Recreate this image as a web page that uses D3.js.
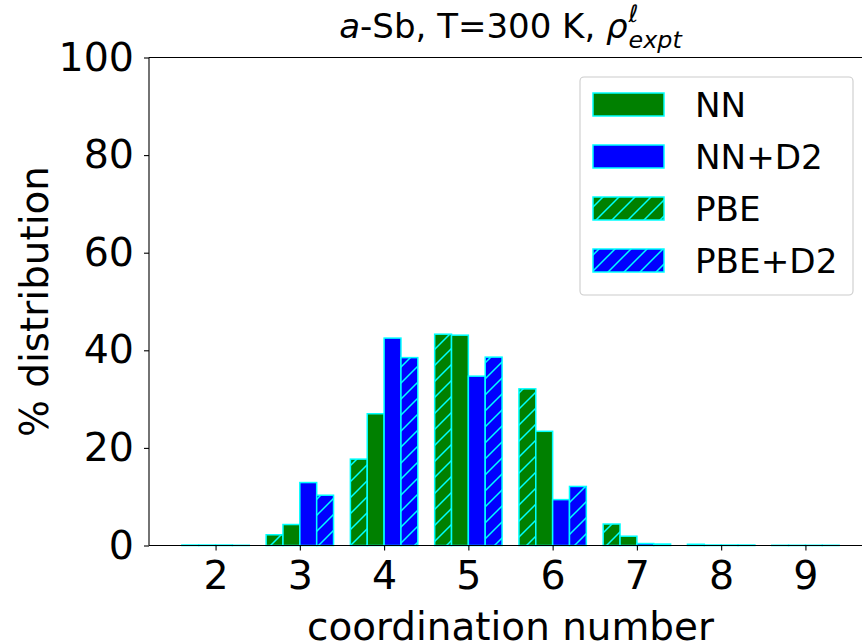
<!DOCTYPE html>
<html lang="en">
<head>
    <meta charset="UTF-8">
    <title>a-Sb coordination number distribution</title>
    <script src="https://d3js.org/d3.v7.min.js"></script>
    <style>
        body { margin: 0; background: #fff; }
        text { font-family: "DejaVu Sans", sans-serif; fill: #000; }
        .spine { stroke: #000; stroke-width: 1.1; }
    </style>
</head>
<body>
    <svg id="chart"></svg>
    <script>
        // data (% of atoms with each coordination number)
        const coordination = [2, 3, 4, 5, 6, 7, 8, 9];
        const nn     = [0.1, 4.3, 27.0, 43.1, 23.4, 1.9, 0.1, 0.05];
        const nnD2   = [0.1, 12.9, 42.5, 34.7, 9.4, 0.4, 0.1, 0.05];
        const pbe    = [0.1, 2.2, 17.7, 43.3, 32.1, 4.4, 0.25, 0.05];
        const pbeD2  = [0.05, 10.3, 38.5, 38.6, 12.1, 0.3, 0.1, 0.05];
        const yTicks = [0, 20, 40, 60, 80, 100];

        // series in drawing order, offset is bar left edge relative to the integer
        const series = [
            { name: "PBE",    values: pbe,   color: "green", hatch: true,  offset: -0.4 },
            { name: "NN",     values: nn,    color: "green", hatch: false, offset: -0.2 },
            { name: "NN+D2",  values: nnD2,  color: "blue",  hatch: false, offset: 0.0 },
            { name: "PBE+D2", values: pbeD2, color: "blue",  hatch: true,  offset: 0.2 }
        ];
        const legendOrder = ["NN", "NN+D2", "PBE", "PBE+D2"];
        const barWidth = 0.2;

        const W = 862, H = 642;
        const svg = d3.select("#chart").attr("width", W).attr("height", H);

        // plot box (right side runs off the canvas like the original)
        const pLeft = 149, pRight = 872, pTop = 57.5, pBottom = 545.5;

        const x = d3.scaleLinear().domain([1.21, 9.79]).range([pLeft, pRight]);
        const y = d3.scaleLinear().domain([0, 100]).range([pBottom, pTop]);

        // hatch patterns
        const defs = svg.append("defs");
        const step = 16;
        ["green", "blue"].forEach(c => {
            const p = defs.append("pattern")
                .attr("id", "hatch-" + c)
                .attr("patternUnits", "userSpaceOnUse")
                .attr("width", step).attr("height", step);
            p.append("rect").attr("width", step).attr("height", step).attr("fill", c);
            p.append("path")
                .attr("d", `M0,${step} L${step},0 M${-step / 2},${step / 2} L${step / 2},${-step / 2} M${step / 2},${step * 1.5} L${step * 1.5},${step / 2}`)
                .attr("stroke", "cyan").attr("stroke-width", 1.5);
        });
        const fillOf = s => s.hatch ? `url(#hatch-${s.color})` : s.color;

        // bars
        series.forEach(s => {
            svg.append("g").selectAll("rect")
                .data(coordination.map((c, i) => ({ c: c, v: s.values[i] })))
                .enter().append("rect")
                .attr("x", d => x(d.c + s.offset))
                .attr("y", d => y(d.v))
                .attr("width", d => x(d.c + s.offset + barWidth) - x(d.c + s.offset))
                .attr("height", d => y(0) - y(d.v))
                .attr("fill", fillOf(s))
                .attr("stroke", "cyan")
                .attr("stroke-width", 1.5);
        });

        // axes
        const xAxis = svg.append("g")
            .attr("transform", `translate(0,${pBottom})`)
            .call(d3.axisBottom(x).tickValues(coordination).tickSize(5).tickPadding(10).tickFormat(d3.format("d")));
        const yAxis = svg.append("g")
            .attr("transform", `translate(${pLeft},0)`)
            .call(d3.axisLeft(y).tickValues(yTicks).tickSize(5).tickPadding(10));
        [xAxis, yAxis].forEach(a => {
            a.select(".domain").remove();
            a.selectAll(".tick line").attr("stroke", "#000").attr("stroke-width", 1.1);
            a.selectAll(".tick text")
                .style("font-family", "DejaVu Sans")
                .style("font-size", "39.5px")
                .attr("fill", "#000");
        });

        // spines
        svg.append("line").attr("class", "spine").attr("x1", pLeft).attr("x2", pLeft).attr("y1", pTop).attr("y2", pBottom);
        svg.append("line").attr("class", "spine").attr("x1", pLeft).attr("x2", pRight).attr("y1", pBottom).attr("y2", pBottom);
        svg.append("line").attr("class", "spine").attr("x1", pLeft).attr("x2", pRight).attr("y1", pTop).attr("y2", pTop);

        // axis labels
        svg.append("text")
            .attr("x", (pLeft + pRight) / 2).attr("y", 640)
            .attr("text-anchor", "middle")
            .style("font-size", "38.9px")
            .text("coordination number");
        svg.append("text")
            .attr("transform", `translate(48,${(pTop + pBottom) / 2}) rotate(-90)`)
            .attr("text-anchor", "middle")
            .style("font-size", "38.9px")
            .text("% distribution");

        // title: a-Sb, T=300 K, rho^l_expt
        const tsize = 34;
        const title = svg.append("g");
        const main = title.append("text").attr("y", 38).style("font-size", tsize + "px");
        main.append("tspan").style("font-style", "italic").text("a");
        main.append("tspan").text("-Sb, T=300 K, ");
        main.append("tspan").style("font-style", "italic").text("\u03C1");
        const mw = main.node().getComputedTextLength();
        title.append("text").attr("x", mw + 1).attr("y", 22)
            .style("font-size", (tsize * 0.7) + "px").style("font-style", "italic").text("\u2113");
        const sub = title.append("text").attr("x", mw + 1).attr("y", 48)
            .style("font-size", (tsize * 0.7) + "px").style("font-style", "italic").text("expt");
        const tw = mw + 1 + sub.node().getComputedTextLength();
        title.attr("transform", `translate(${(pLeft + pRight) / 2 - tw / 2},0)`);

        // legend
        const lg = svg.append("g");
        lg.append("rect")
            .attr("x", 580).attr("y", 77).attr("width", 273).attr("height", 218)
            .attr("rx", 4).attr("fill", "#fff").attr("fill-opacity", 0.8)
            .attr("stroke", "#cccccc").attr("stroke-width", 1.1);
        legendOrder.forEach((name, i) => {
            const s = series.find(d => d.name === name);
            const cy = 104.5 + i * 52;
            lg.append("rect")
                .attr("x", 593).attr("y", cy - 11.5).attr("width", 71).attr("height", 23)
                .attr("fill", fillOf(s)).attr("stroke", "cyan").attr("stroke-width", 1.5);
            lg.append("text")
                .attr("x", 695).attr("y", cy + 12.5)
                .style("font-size", "34.2px")
                .text(name);
        });
    </script>
</body>
</html>
